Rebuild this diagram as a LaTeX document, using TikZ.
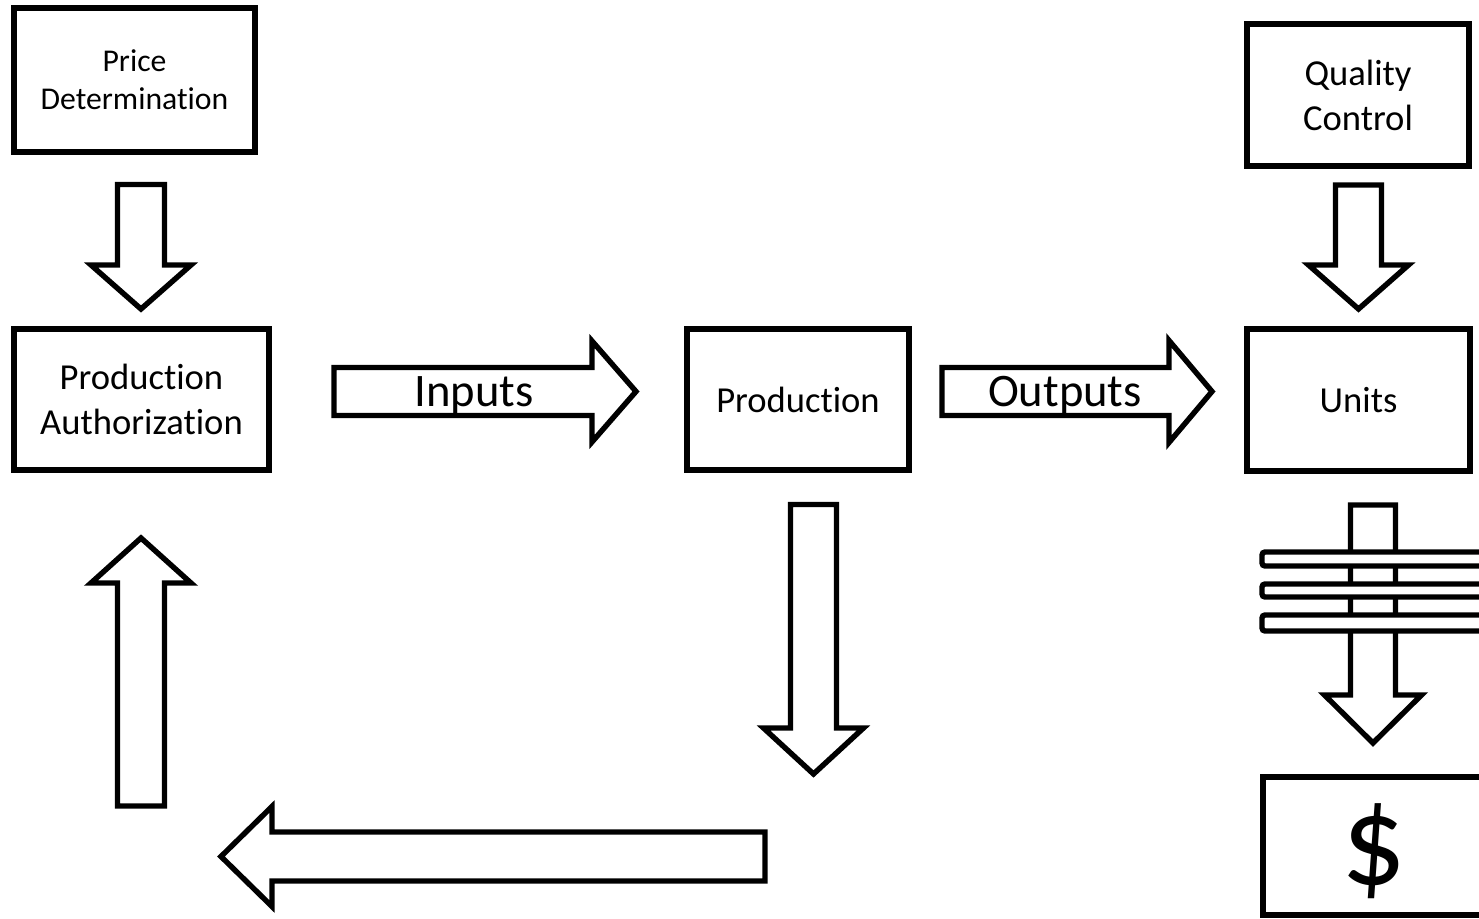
\documentclass[tikz,border=0pt]{standalone}
\usepackage{fontspec}
\setmainfont{Carlito}[Ligatures={NoCommon,NoContextual},RawFeature={-liga;-calt;-dlig}]
\newcommand\vblock[6]{% cx, ystart, yhead, ytip, shaft half, head half
  \draw[blk] ({#1-#5},#2) -- ({#1+#5},#2) -- ({#1+#5},#3) -- ({#1+#6},#3) -- (#1,#4) -- ({#1-#6},#3) -- ({#1-#5},#3) -- cycle;}
\newcommand\hblock[6]{% cy, xstart, xhead, xtip, shaft half, head half
  \draw[blk] (#2,{#1-#5}) -- (#3,{#1-#5}) -- (#3,{#1-#6}) -- (#4,#1) -- (#3,{#1+#6}) -- (#3,{#1+#5}) -- (#2,{#1+#5}) -- cycle;}
\begin{document}
\begin{tikzpicture}[x=0.5pt,y=-0.5pt,
  box/.style={draw, line width=2.7pt, fill=white, inner sep=0pt, align=center, font=\fontsize{18.3}{22.5}\selectfont},
  blk/.style={draw, line width=2.7pt, fill=white, line join=miter},
  bar/.style={draw, line width=2.7pt, fill=white, rounded corners=1.5pt},
  lbl/.style={font=\fontsize{23.3}{28}\selectfont, anchor=base, inner sep=0pt}]
\useasboundingbox (0,0) rectangle (1479,919);
\clip (0,0) rectangle (1479,919);

\node[box, minimum width=120.5pt, minimum height=72pt, font=\fontsize{15.85}{19}\selectfont] (price) at (134.5,80) {Price\\Determination};
\node[box, minimum width=127.5pt, minimum height=70.5pt] (auth) at (141.5,399.5) {Production\\Authorization};
\node[box, minimum width=111pt, minimum height=70.5pt] (prod) at (798,399.5) {Production};
\node[box, minimum width=111pt, minimum height=71pt] (qc) at (1358,95) {Quality\\Control};
\node[box, minimum width=111.5pt, minimum height=71pt] (units) at (1358.5,400) {Units};
\node[box, minimum width=111pt, minimum height=69pt] (money) at (1374,846) {};
\node[font=\fontsize{64}{70}\selectfont, inner sep=0pt] (dollar) at (1374,851) {\$};

% block arrows
\vblock{141}{184.5}{265}{309}{23.5}{50}
\vblock{1358.5}{185}{265}{309}{23}{50}
\vblock{141}{806}{583}{538}{23.5}{50}
\vblock{813.5}{504.5}{728}{774}{23}{50}
\vblock{1373}{505}{695}{743}{22.5}{48.5}
\hblock{391.5}{334}{592}{636}{24}{50.5}
\hblock{391.5}{942}{1169}{1212}{24}{51}
\hblock{856.5}{765}{272}{221}{24.5}{50}

% bars across the Units arrow
\draw[bar] (1262,552) rectangle (1530,566);
\draw[bar] (1262,584) rectangle (1530,597);
\draw[bar] (1262,615) rectangle (1530,631);

\node[lbl] (inputs) at (474,407) {Inputs};
\node[lbl] (outputs) at (1065,407) {Outputs};
\end{tikzpicture}
\end{document}
